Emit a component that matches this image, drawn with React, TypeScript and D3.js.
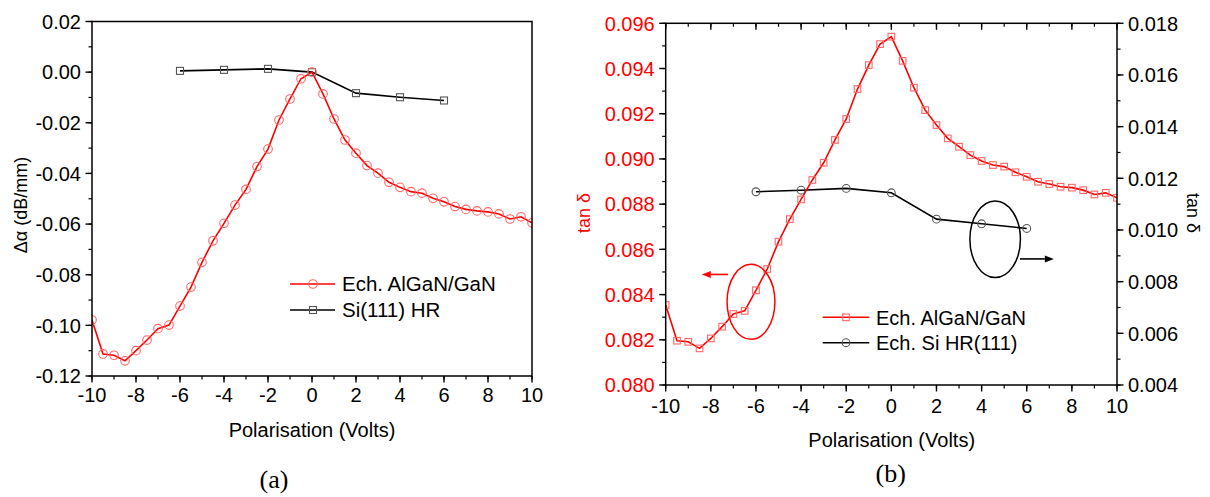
import React from 'react';
import * as d3 from 'd3';

// ---------- data ----------
const voltsFine = [-10, -9.5, -9, -8.5, -8, -7.5, -7, -6.5, -6, -5.5, -5, -4.5, -4, -3.5, -3, -2.5, -2, -1.5, -1, -0.5, 0,
  0.5, 1, 1.5, 2, 2.5, 3, 3.5, 4, 4.5, 5, 5.5, 6, 6.5, 7, 7.5, 8, 8.5, 9, 9.5, 10];
const alphaAlGaN = [-0.0979, -0.1113, -0.1118, -0.114, -0.11, -0.1058, -0.1013, -0.0999, -0.0924, -0.0849, -0.0751,
  -0.0666, -0.0597, -0.0525, -0.0463, -0.0373, -0.0304, -0.0189, -0.0106, -0.0026, 0.0,
  -0.0086, -0.0185, -0.0268, -0.032, -0.0369, -0.0399, -0.0435, -0.0455, -0.0472, -0.0478,
  -0.0498, -0.0512, -0.0531, -0.0542, -0.0548, -0.0552, -0.056, -0.058, -0.0571, -0.0595];
const voltsSi = [-6, -4, -2, 0, 2, 4, 6];
const alphaSi = [0.0005, 0.0009, 0.0013, 0.0, -0.0083, -0.0099, -0.0112];
const tanAlGaN = [0.08354, 0.08196, 0.08191, 0.08162, 0.08206, 0.08258, 0.08314, 0.08328, 0.08419, 0.08513, 0.08634,
  0.08734, 0.08821, 0.08907, 0.08983, 0.09084, 0.09177, 0.09309, 0.09415, 0.09508, 0.09541,
  0.09434, 0.09315, 0.09216, 0.0915, 0.09091, 0.09054, 0.09017, 0.08991, 0.08973, 0.08966,
  0.08941, 0.08921, 0.08899, 0.08889, 0.08877, 0.08873, 0.08862, 0.08843, 0.0885, 0.08828];
const tanSi = [0.01148, 0.01154, 0.01161, 0.01144, 0.01042, 0.01024, 0.01006];

const xTickValues = [-10, -8, -6, -4, -2, 0, 2, 4, 6, 8, 10];
const xTickLabels = ['-10', '-8', '-6', '-4', '-2', '0', '2', '4', '6', '8', '10'];
const alphaTickValues = [0.02, 0.0, -0.02, -0.04, -0.06, -0.08, -0.1, -0.12];
const alphaTickLabels = ['0.02', '0.00', '-0.02', '-0.04', '-0.06', '-0.08', '-0.10', '-0.12'];
const tanLTickValues = [0.08, 0.082, 0.084, 0.086, 0.088, 0.09, 0.092, 0.094, 0.096];
const tanLTickLabels = ['0.080', '0.082', '0.084', '0.086', '0.088', '0.090', '0.092', '0.094', '0.096'];
const tanRTickValues = [0.004, 0.006, 0.008, 0.01, 0.012, 0.014, 0.016, 0.018];
const tanRTickLabels = ['0.004', '0.006', '0.008', '0.010', '0.012', '0.014', '0.016', '0.018'];

const legendA = ['Ech. AlGaN/GaN', 'Si(111) HR'];
const legendB = ['Ech. AlGaN/GaN', 'Ech. Si HR(111)'];

// ---------- style ----------
const SANS = '"Liberation Sans", Arial, sans-serif';
const SERIF = '"Liberation Serif", "Times New Roman", serif';
const RED = '#ff0000';
const MRED = '#ff6666';
const MGREY = '#555555';
const FS = 20;

const W = 1210, H = 497;

// panel A scales
const xA = d3.scaleLinear().domain([-10, 10]).range([92, 532]);
const yA = d3.scaleLinear().domain([-0.12, 0.02]).range([376, 21.5]);
// panel B scales
const xB = d3.scaleLinear().domain([-10, 10]).range([665.7, 1117]);
const yBL = d3.scaleLinear().domain([0.08, 0.096]).range([385, 23.3]);
const yBR = d3.scaleLinear().domain([0.004, 0.018]).range([385, 23.3]);

function Circle({ cx, cy, r, stroke }: any) {
  return <circle cx={cx} cy={cy} r={r} fill="none" stroke={stroke} strokeWidth={1.1} />;
}
function Square({ cx, cy, s, stroke }: any) {
  return <rect x={cx - s / 2} y={cy - s / 2} width={s} height={s} fill="none" stroke={stroke} strokeWidth={1.1} />;
}

function BottomAxis({ x, y0, labelDy, top }: any) {
  const minor = x.ticks(20);
  return (
    <g>
      {minor.map((t: number, i: number) => (
        <line key={'m' + i} x1={x(t)} x2={x(t)} y1={y0} y2={y0 + 3.5} stroke="#000" strokeWidth={1.2} />
      ))}
      {xTickValues.map((t, i) => (
        <line key={'M' + i} x1={x(t)} x2={x(t)} y1={y0} y2={y0 + 6.5} stroke="#000" strokeWidth={1.4} />
      ))}
      {top !== undefined && minor.map((t: number, i: number) => (
        <line key={'tm' + i} x1={x(t)} x2={x(t)} y1={top} y2={top + 3.5} stroke="#000" strokeWidth={1.2} />
      ))}
      {top !== undefined && xTickValues.map((t, i) => (
        <line key={'tM' + i} x1={x(t)} x2={x(t)} y1={top} y2={top + 6.5} stroke="#000" strokeWidth={1.4} />
      ))}
      {xTickValues.map((t, i) => (
        <text key={'l' + i} x={x(t)} y={y0 + labelDy} textAnchor="middle" fontFamily={SANS} fontSize={FS} fill="#000">
          {xTickLabels[i]}
        </text>
      ))}
    </g>
  );
}

function VAxis({ y, x0, side, values, labels, minorCount, color }: any) {
  const dir = side === 'left' ? -1 : 1;
  const minor = y.ticks(minorCount);
  return (
    <g>
      {minor.map((t: number, i: number) => (
        <line key={'m' + i} x1={x0} x2={x0 + dir * 3.5} y1={y(t)} y2={y(t)} stroke="#000" strokeWidth={1.2} />
      ))}
      {values.map((t: number, i: number) => (
        <line key={'M' + i} x1={x0} x2={x0 + dir * 6.5} y1={y(t)} y2={y(t)} stroke="#000" strokeWidth={1.4} />
      ))}
      {values.map((t: number, i: number) => (
        <text key={'l' + i} x={x0 + dir * 11} y={y(t)} dy="0.36em" textAnchor={side === 'left' ? 'end' : 'start'}
          fontFamily={SANS} fontSize={FS} fill={color}>
          {labels[i]}
        </text>
      ))}
    </g>
  );
}

function Arrow({ x1, x2, y, color }: any) {
  const dir = x2 > x1 ? 1 : -1;
  const headLen = 9;
  const tipX = x2;
  const baseX = x2 - dir * headLen;
  return (
    <g>
      <line x1={x1} x2={baseX} y1={y} y2={y} stroke={color} strokeWidth={1.6} />
      <path d={`M${tipX},${y} L${baseX},${y - 3.5} L${baseX},${y + 3.5} Z`} fill={color} />
    </g>
  );
}

export default function App() {
  const lineA = d3.line<number>().x((_, i) => xA(voltsFine[i])).y((d) => yA(d));
  const lineASi = d3.line<number>().x((_, i) => xA(voltsSi[i])).y((d) => yA(d));
  const lineB = d3.line<number>().x((_, i) => xB(voltsFine[i])).y((d) => yBL(d));
  const lineBSi = d3.line<number>().x((_, i) => xB(voltsSi[i])).y((d) => yBR(d));

  const [ax0, ax1] = xA.range();
  const [ay0, ay1] = yA.range();
  const [bx0, bx1] = xB.range();
  const [by0, by1] = yBL.range();

  // annotation geometry in data units
  const redEll = { cx: xB(-6.22), cy: yBL(0.08368), rx: xB(1.06) - xB(0), ry: yBL(0.08) - yBL(0.08166) };
  const blkEll = { cx: xB(4.6), cy: yBR(0.00964), rx: xB(1.12) - xB(0), ry: yBR(0.004) - yBR(0.00548) };

  const legA = [
    { y: 284, color: RED, mk: MRED, shape: 'c' },
    { y: 310, color: '#000', mk: MGREY, shape: 's' },
  ];
  const legB = [
    { y: 317.3, color: RED, mk: MRED, shape: 's' },
    { y: 342.7, color: '#000', mk: MGREY, shape: 'c' },
  ];

  return (
    <div style={{ position: 'absolute', left: 0, top: 0 }}>
      <svg width={W} height={H} viewBox={`0 0 ${W} ${H}`} style={{ display: 'block', background: '#fff' }}>
        <defs>
          <clipPath id="clipA"><rect x={ax0} y={ay1} width={ax1 - ax0} height={ay0 - ay1} /></clipPath>
          <clipPath id="clipB"><rect x={bx0} y={by1} width={bx1 - bx0} height={by0 - by1} /></clipPath>
        </defs>
        <rect x={0} y={0} width={W} height={H} fill="#fff" />

        {/* ================= Panel (a) ================= */}
        <g clipPath="url(#clipA)">
          <path d={lineASi(alphaSi) || ''} fill="none" stroke="#000" strokeWidth={1.6} />
          <path d={lineA(alphaAlGaN) || ''} fill="none" stroke={RED} strokeWidth={1.6} />
          {alphaSi.map((v, i) => (
            <Square key={'as' + i} cx={xA(voltsSi[i])} cy={yA(v)} s={7} stroke={MGREY} />
          ))}
          {alphaAlGaN.map((v, i) => (
            <Circle key={'ac' + i} cx={xA(voltsFine[i])} cy={yA(v)} r={4.3} stroke={MRED} />
          ))}
        </g>
        <rect x={ax0} y={ay1} width={ax1 - ax0} height={ay0 - ay1} fill="none" stroke="#000" strokeWidth={1.5} />
        <BottomAxis x={xA} y0={ay0} labelDy={26} />
        <VAxis y={yA} x0={ax0} side="left" values={alphaTickValues} labels={alphaTickLabels} minorCount={14} color="#000" />
        <text transform={`translate(21,205) rotate(-90)`} textAnchor="middle" dy="0.35em" fontFamily={SANS} fontSize={18} fill="#000">
          Δα (dB/mm)
        </text>
        <text x={(ax0 + ax1) / 2} y={436.5} textAnchor="middle" fontFamily={SANS} fontSize={FS} fill="#000">
          Polarisation (Volts)
        </text>
        <text x={274} y={488} textAnchor="middle" fontFamily={SERIF} fontSize={26} fill="#000">(a)</text>
        {legA.map((l, i) => (
          <g key={'la' + i}>
            <line x1={290} x2={335} y1={l.y} y2={l.y} stroke={l.color} strokeWidth={1.6} />
            {l.shape === 'c'
              ? <Circle cx={313} cy={l.y} r={4.3} stroke={l.mk} />
              : <Square cx={313} cy={l.y} s={7} stroke={l.mk} />}
            <text x={342} y={l.y} dy="0.36em" fontFamily={SANS} fontSize={20.5} fill="#000">{legendA[i]}</text>
          </g>
        ))}

        {/* ================= Panel (b) ================= */}
        <g clipPath="url(#clipB)">
          <path d={lineBSi(tanSi) || ''} fill="none" stroke="#000" strokeWidth={1.6} />
          <path d={lineB(tanAlGaN) || ''} fill="none" stroke={RED} strokeWidth={1.6} />
          {tanSi.map((v, i) => (
            <Circle key={'bc' + i} cx={xB(voltsSi[i])} cy={yBR(v)} r={3.9} stroke={MGREY} />
          ))}
          {tanAlGaN.map((v, i) => (
            <Square key={'bs' + i} cx={xB(voltsFine[i])} cy={yBL(v)} s={6.6} stroke={MRED} />
          ))}
        </g>
        <rect x={bx0} y={by1} width={bx1 - bx0} height={by0 - by1} fill="none" stroke="#000" strokeWidth={1.5} />
        <BottomAxis x={xB} y0={by0} labelDy={27.5} top={by1} />
        <VAxis y={yBL} x0={bx0} side="left" values={tanLTickValues} labels={tanLTickLabels} minorCount={16} color={RED} />
        <VAxis y={yBR} x0={bx1} side="right" values={tanRTickValues} labels={tanRTickLabels} minorCount={14} color="#000" />
        <text transform={`translate(584,213) rotate(-90)`} textAnchor="middle" dy="0.35em" fontFamily={SANS} fontSize={18} fill={RED}>
          tan δ
        </text>
        <text transform={`translate(1193.5,213) rotate(90)`} textAnchor="middle" dy="0.35em" fontFamily={SANS} fontSize={18} fill="#000">
          tan δ
        </text>
        <text x={891.7} y={446.5} textAnchor="middle" fontFamily={SANS} fontSize={FS} fill="#000">
          Polarisation (Volts)
        </text>
        <text x={890.7} y={481.5} textAnchor="middle" fontFamily={SERIF} fontSize={26} fill="#000">(b)</text>

        {/* annotations */}
        <ellipse cx={redEll.cx} cy={redEll.cy} rx={redEll.rx} ry={redEll.ry} fill="none" stroke={RED} strokeWidth={1.5} />
        <Arrow x1={xB(-7.24)} x2={xB(-8.4)} y={yBL(0.08489)} color={RED} />
        <ellipse cx={blkEll.cx} cy={blkEll.cy} rx={blkEll.rx} ry={blkEll.ry} fill="none" stroke="#000" strokeWidth={1.5} />
        <Arrow x1={xB(5.7)} x2={xB(7.2)} y={yBR(0.00888)} color="#000" />

        {legB.map((l, i) => (
          <g key={'lb' + i}>
            <line x1={822.7} x2={869.3} y1={l.y} y2={l.y} stroke={l.color} strokeWidth={1.6} />
            {l.shape === 'c'
              ? <Circle cx={846} cy={l.y} r={3.9} stroke={l.mk} />
              : <Square cx={846} cy={l.y} s={6.6} stroke={l.mk} />}
            <text x={876} y={l.y} dy="0.36em" fontFamily={SANS} fontSize={20} fill="#000">{legendB[i]}</text>
          </g>
        ))}
      </svg>
    </div>
  );
}
